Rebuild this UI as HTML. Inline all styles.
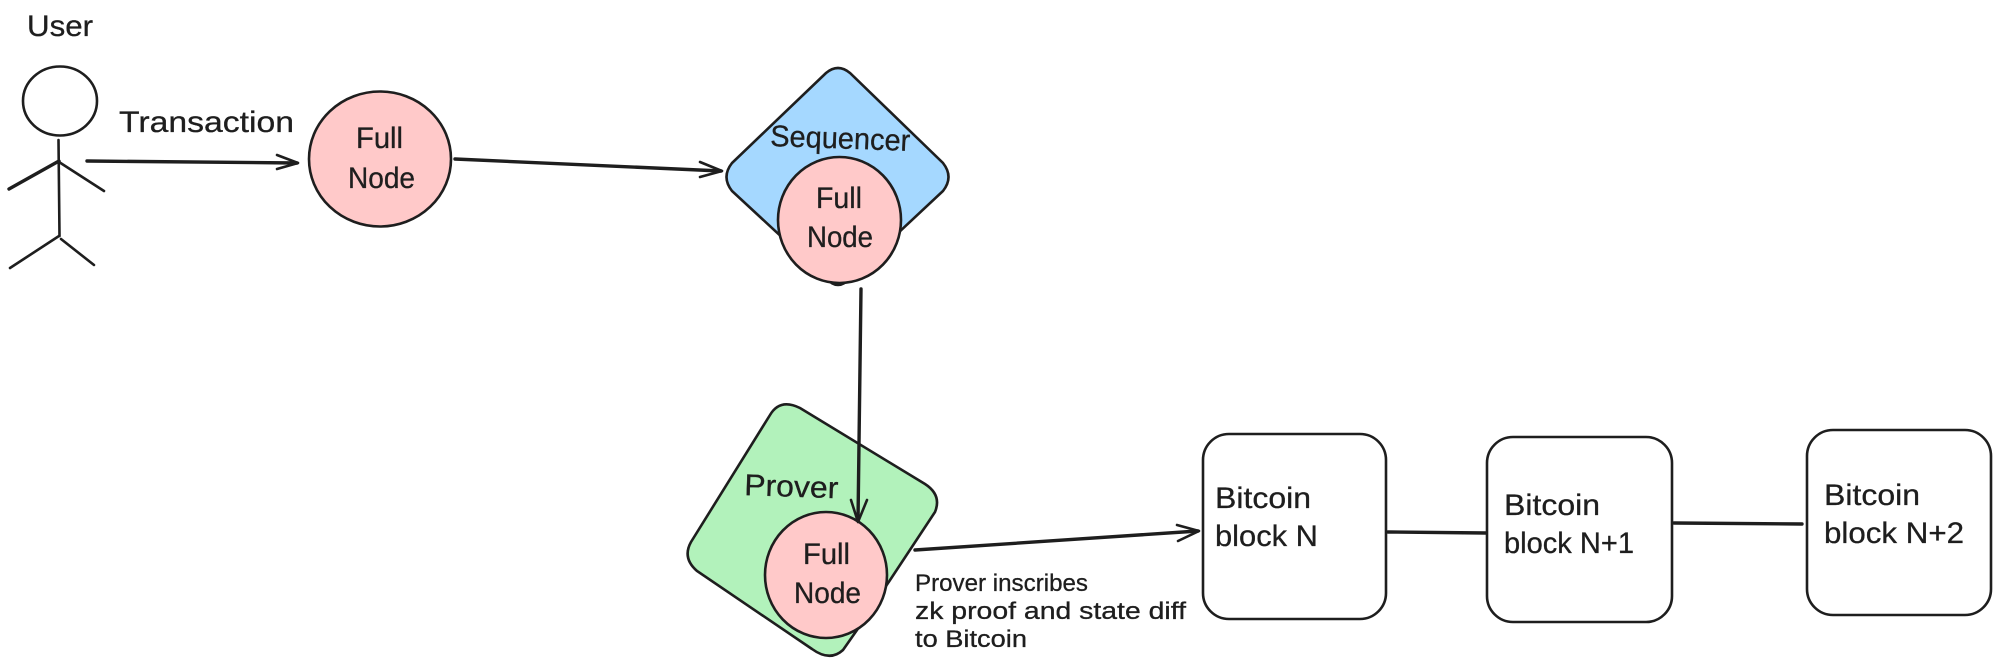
<!DOCTYPE html>
<html>
<head>
<meta charset="utf-8">
<style>
html,body{margin:0;padding:0;background:#fff;}
svg{display:block;}
text{font-family:"Liberation Sans",sans-serif;fill:#1e1e1e;font-size:30px;stroke:#1e1e1e;stroke-width:.3;}
.s{fill:none;stroke:#1e1e1e;stroke-width:2.6;stroke-linecap:round;stroke-linejoin:round;}
.t{stroke-width:3.4;}
.f{stroke:#1e1e1e;stroke-width:2.6;}
.m{font-size:24px;}
</style>
</head>
<body>
<svg width="2000" height="672" viewBox="0 0 2000 672" xmlns="http://www.w3.org/2000/svg">
<rect width="2000" height="672" fill="#fff"/>

<!-- Actor -->
<ellipse class="s" cx="60" cy="101" rx="37" ry="34.5"/>
<path class="s" d="M58.5 140 L59.5 236"/>
<path class="s t" d="M59 161 L9 189"/>
<path class="s" d="M59 162 L104 191"/>
<path class="s" d="M59 236 L10 268"/>
<path class="s" d="M61 239 L94 265"/>
<text x="27" y="36" textLength="66" lengthAdjust="spacingAndGlyphs">User</text>

<!-- Transaction arrow -->
<path class="s t" d="M87 161 L297 163"/>
<path class="s" d="M277 155 L298 163 L277 169"/>
<text x="119" y="132" textLength="175" lengthAdjust="spacingAndGlyphs">Transaction</text>

<!-- Full node 1 -->
<ellipse class="f" cx="380" cy="159" rx="71" ry="67.5" fill="#ffc9c9"/>
<text x="356" y="148" textLength="47" lengthAdjust="spacingAndGlyphs">Full</text>
<text x="348" y="188" textLength="67" lengthAdjust="spacingAndGlyphs">Node</text>

<path class="s t" d="M455 159 L721 171"/>
<path class="s" d="M700 162 L722 171 L700 177"/>

<!-- Sequencer -->
<path class="f" fill="#a5d8ff" d="M826 73 Q838 63 850 73 L943 163 Q954 177 943 191 L850 278 Q838 292 826 278 L732 191 Q721 177 732 163 Z"/>
<text x="770" y="146" textLength="140" lengthAdjust="spacingAndGlyphs" transform="rotate(2 770 146)">Sequencer</text>
<ellipse class="f" cx="839.5" cy="220" rx="61.5" ry="63" fill="#ffc9c9"/>
<text x="816" y="208" textLength="46" lengthAdjust="spacingAndGlyphs">Full</text>
<text x="807" y="247" textLength="66" lengthAdjust="spacingAndGlyphs">Node</text>

<!-- Prover -->
<path class="f" fill="#b2f2bb" d="M770 415 Q780 398 800 408 L925 484 Q942 495 935 512 L857 630 L843 650 Q830 662 812 649 L697 571 Q682 558 691 542 Z"/>
<text x="744" y="495" textLength="94" lengthAdjust="spacingAndGlyphs" transform="rotate(2 744 495)">Prover</text>
<ellipse class="f" cx="826" cy="575" rx="61" ry="63" fill="#ffc9c9"/>
<text x="803" y="564" textLength="47" lengthAdjust="spacingAndGlyphs">Full</text>
<text x="794" y="603" textLength="67" lengthAdjust="spacingAndGlyphs">Node</text>

<!-- Sequencer to Prover arrow -->
<path class="s t" d="M861 289 L858 521"/>
<path class="s" d="M851 500 L858 522 L867 500"/>

<!-- Prover to Bitcoin arrow -->
<path class="s t" d="M915 550 L1198 531"/>
<path class="s" d="M1177 525 L1199 531 L1178 541"/>

<text class="m" x="915" y="591" textLength="173" lengthAdjust="spacingAndGlyphs">Prover inscribes</text>
<text class="m" x="915" y="619" textLength="271" lengthAdjust="spacingAndGlyphs">zk proof and state diff</text>
<text class="m" x="915" y="647" textLength="112" lengthAdjust="spacingAndGlyphs">to Bitcoin</text>

<!-- Bitcoin blocks -->
<rect class="s" x="1203" y="434" width="183" height="185" rx="26" ry="26"/>
<rect class="s" x="1487" y="437" width="185" height="185" rx="26" ry="26"/>
<rect class="s" x="1807" y="430" width="184" height="185" rx="26" ry="26"/>
<path class="s t" d="M1388 532 L1486 533"/>
<path class="s t" d="M1674 523 L1802 524"/>

<text x="1215" y="508" textLength="96" lengthAdjust="spacingAndGlyphs">Bitcoin</text>
<text x="1215" y="546" textLength="103" lengthAdjust="spacingAndGlyphs">block N</text>
<text x="1504" y="515" textLength="96" lengthAdjust="spacingAndGlyphs">Bitcoin</text>
<text x="1504" y="553" textLength="130" lengthAdjust="spacingAndGlyphs">block N+1</text>
<text x="1824" y="505" textLength="96" lengthAdjust="spacingAndGlyphs">Bitcoin</text>
<text x="1824" y="543" textLength="140" lengthAdjust="spacingAndGlyphs">block N+2</text>
</svg>
</body>
</html>
